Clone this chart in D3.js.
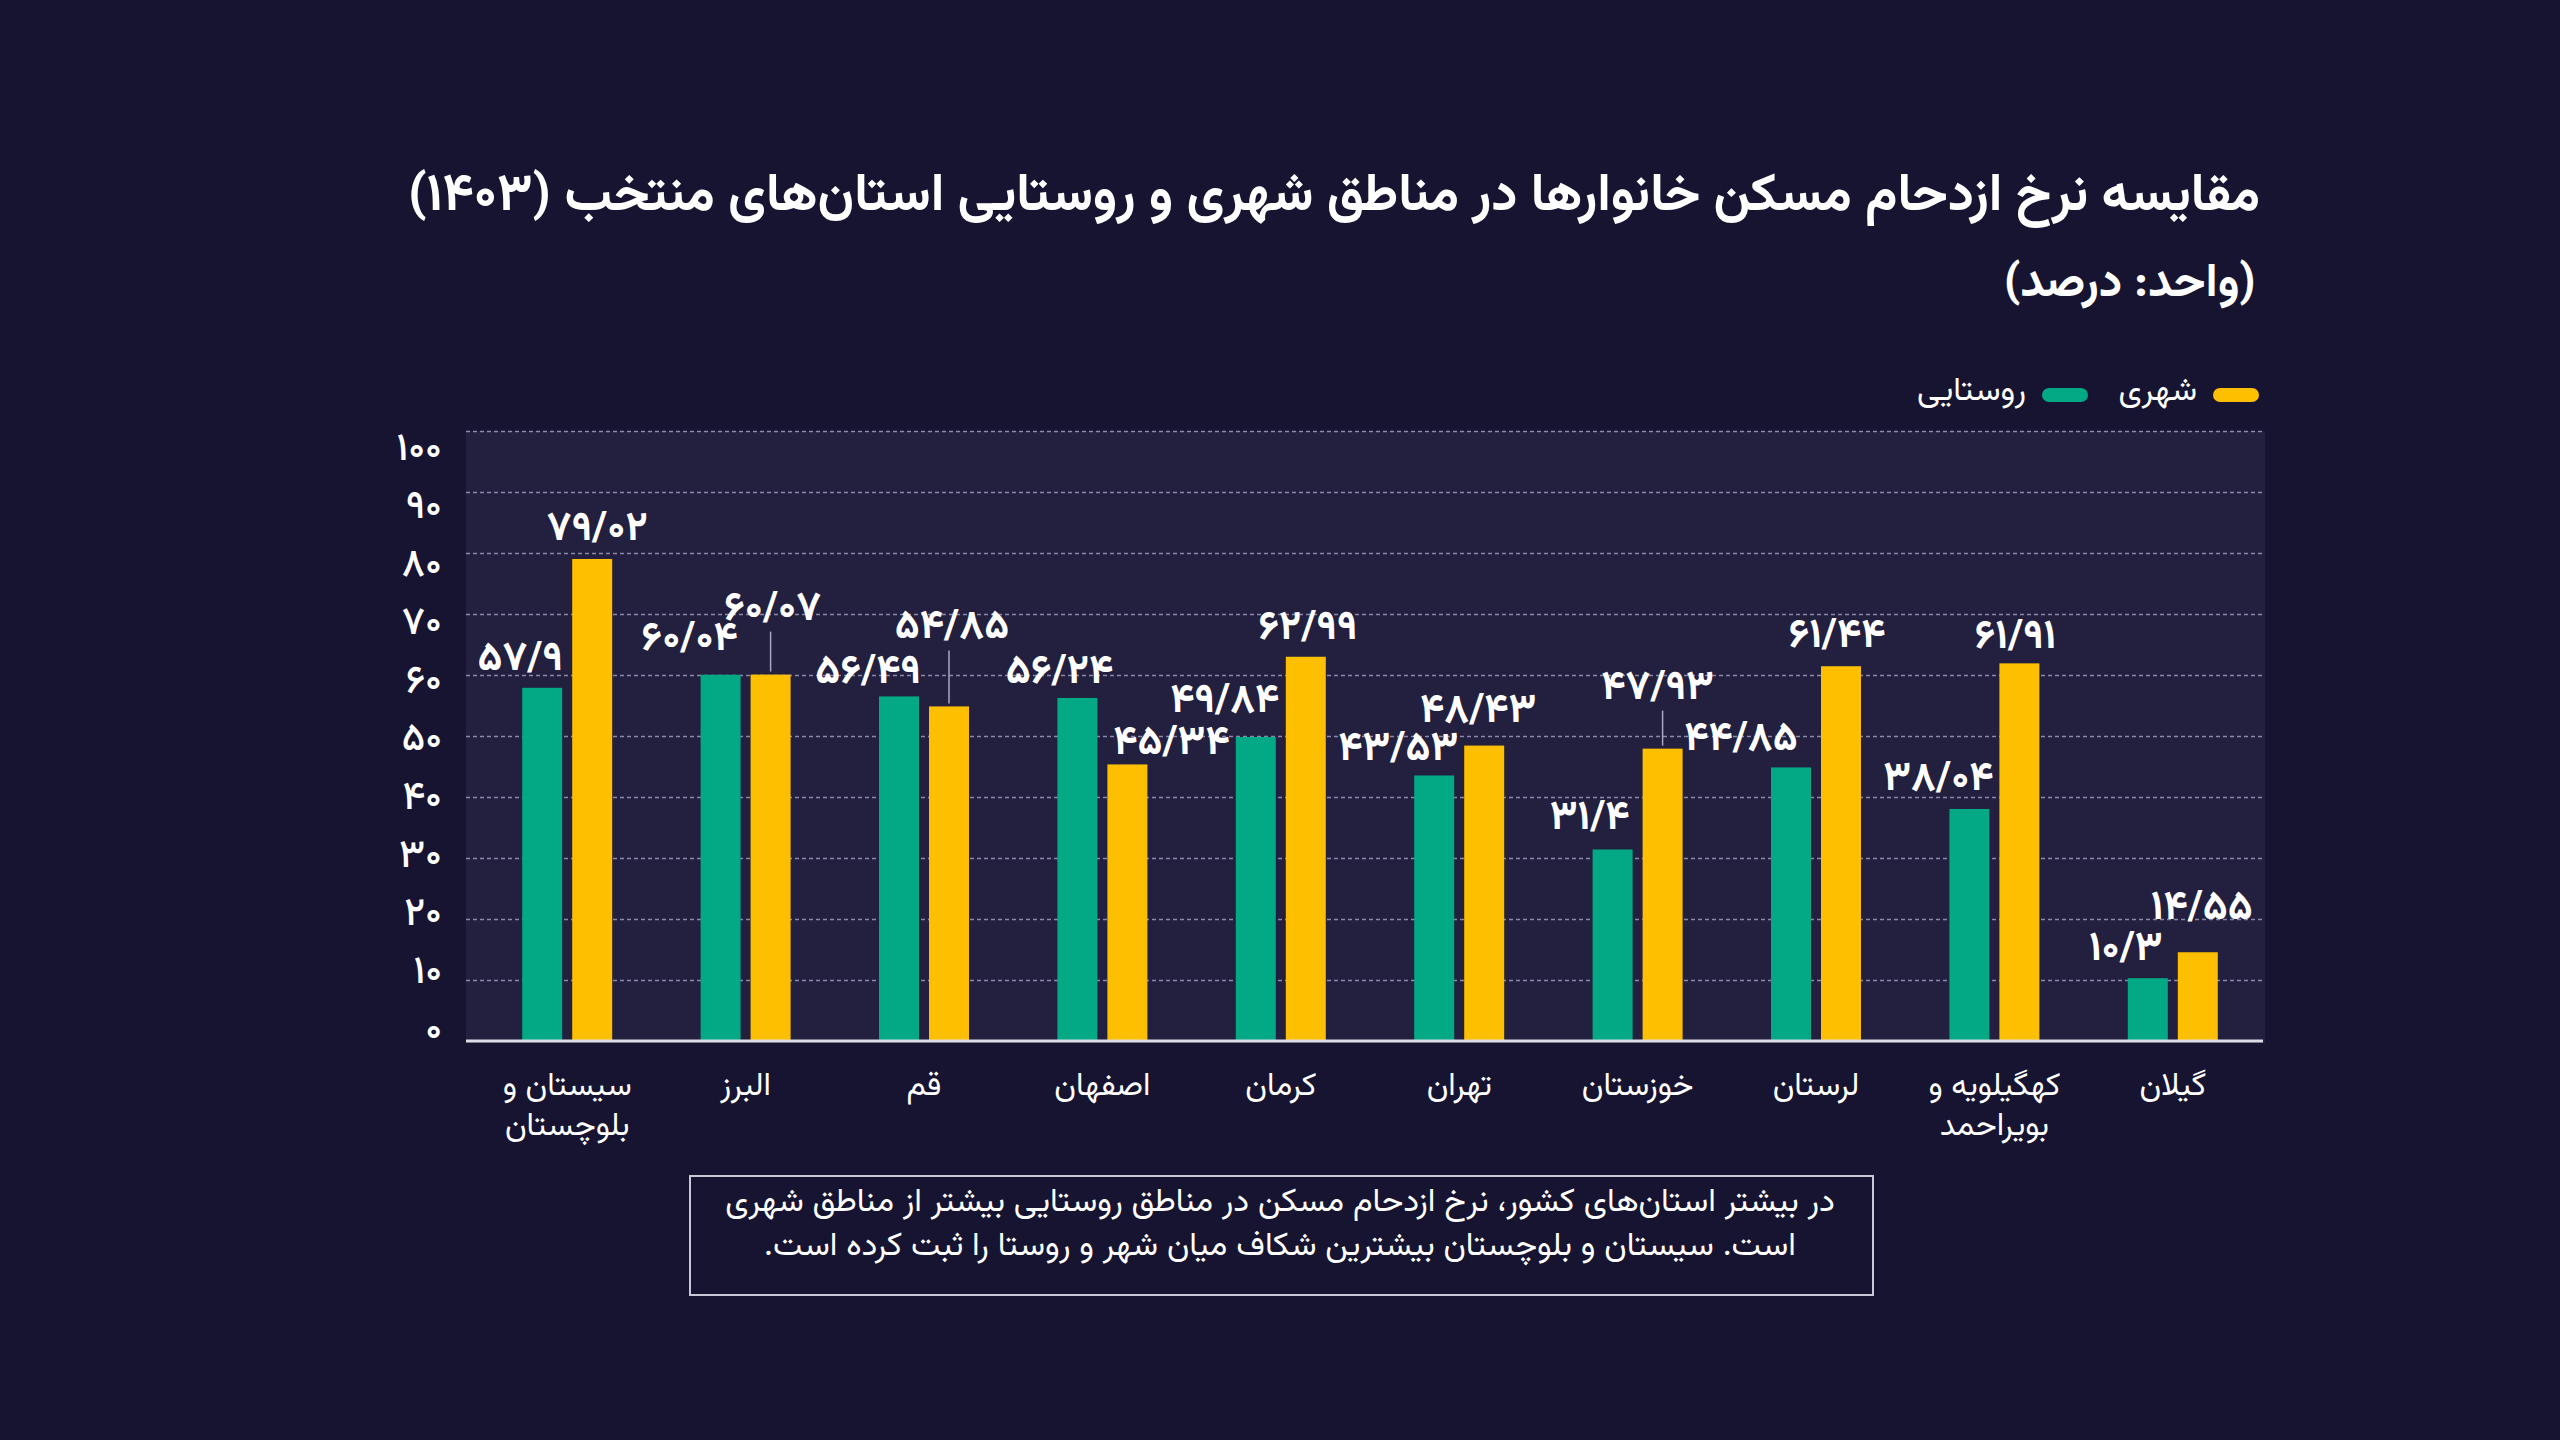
<!DOCTYPE html>
<html lang="fa">
<head>
<meta charset="utf-8">
<title>نرخ ازدحام مسکن</title>
<script src="https://cdn.jsdelivr.net/npm/d3@7"></script>
<style>
  html, body { margin: 0; padding: 0; background: #161431; }
  svg text { font-family: "Vazirmatn", "Noto Sans Arabic", "DejaVu Sans", sans-serif; fill: #ffffff; }
</style>
</head>
<body>
<script>
// data
var provinces = ["سیستان و بلوچستان", "البرز", "قم", "اصفهان", "کرمان", "تهران", "خوزستان", "لرستان", "کهگیلویه و بویراحمد", "گیلان"];
var rural = [57.9, 60.04, 56.49, 56.24, 49.84, 43.53, 31.4, 44.85, 38.04, 10.3];
var urban = [79.02, 60.07, 54.85, 45.34, 62.99, 48.43, 47.93, 61.44, 61.91, 14.55];
var yTicks = [0, 10, 20, 30, 40, 50, 60, 70, 80, 90, 100];

var titleText = "مقایسه نرخ ازدحام مسکن خانوارها در مناطق شهری و روستایی استان\u200cهای منتخب (۱۴۰۳)";
var unitText = "(واحد: درصد)";
var noteLines = ["در بیشتر استان\u200cهای کشور، نرخ ازدحام مسکن در مناطق روستایی بیشتر از مناطق شهری",
                 "است. سیستان و بلوچستان بیشترین شکاف میان شهر و روستا را ثبت کرده است."];

// label nudges (layout only) [dx, dy] from bar top centre
var ruralNudge = [[-22,-28],[-31,-35],[-31,-23],[-18,-25],[-31,-35],[-36,-25],[-23,-30],[-50,-27],[-31,-29],[-22,-28]];
var urbanNudge = [[5,-29],[2,-65],[3,-78],[44,-20],[2,-28],[-6,-34],[-5,-60],[-4,-29],[-4,-25],[4,-43]];
var leader = [false, true, true, false, false, false, true, false, false, false];

var w = 2560, h = 1440;
var green = "#02a984", yellow = "#fdbf00";

function fa(v) {
    return String(v).replace(/\./g, "/").replace(/[0-9]/g, function(c) { return "۰۱۲۳۴۵۶۷۸۹"[+c]; });
}

var svg = d3.select("body").append("svg")
    .attr("width", w)
    .attr("height", h);

svg.append("rect").attr("width", w).attr("height", h).attr("fill", "#161431");

// plot panel
svg.append("rect")
    .attr("x", 466).attr("y", 431)
    .attr("width", 1799).attr("height", 612)
    .attr("fill", "#221f3f");

var x = d3.scaleBand().domain(provinces).range([478, 2262]);
var xSub = d3.scaleBand().domain(["rural", "urban"]).range([0, 90]).paddingInner(0.2);
var y = d3.scaleLinear().domain([0, 100]).range([1041, 431]);
var yLab = d3.scaleLinear().domain([0, 100]).range([1028, 447]);

// grid
var grid = svg.append("g")
    .attr("transform", "translate(466,0)")
    .call(d3.axisLeft(y).tickValues(yTicks.slice(1)).tickSize(-1797).tickFormat(""));
grid.select(".domain").remove();
grid.selectAll(".tick line")
    .attr("stroke", "#8c89ab")
    .attr("stroke-width", 1.3)
    .attr("stroke-dasharray", "4,3");

// y labels
var yAxis = svg.append("g")
    .attr("transform", "translate(442,0)")
    .call(d3.axisLeft(yLab).tickValues(yTicks).tickSize(0).tickPadding(0).tickFormat(fa));
yAxis.select(".domain").remove();
yAxis.selectAll("text")
    .attr("font-size", 39)
    .attr("font-weight", 500)
    .attr("font-family", null)
    .style("fill", "#ffffff");

// bars
var groups = svg.selectAll("g.grp")
    .data(provinces)
    .enter().append("g")
    .attr("class", "grp")
    .attr("transform", function(d) { return "translate(" + (x(d) + x.bandwidth() / 2 - 45) + ",0)"; });

groups.append("rect")
    .attr("x", xSub("rural"))
    .attr("y", function(d, i) { return y(rural[i]); })
    .attr("width", xSub.bandwidth())
    .attr("height", function(d, i) { return y(0) - y(rural[i]); })
    .attr("fill", green);

groups.append("rect")
    .attr("x", xSub("urban"))
    .attr("y", function(d, i) { return y(urban[i]); })
    .attr("width", xSub.bandwidth())
    .attr("height", function(d, i) { return y(0) - y(urban[i]); })
    .attr("fill", yellow);

// leader lines
groups.filter(function(d, i) { return leader[i]; })
    .append("line")
    .attr("x1", xSub("urban") + 20)
    .attr("x2", xSub("urban") + 20)
    .attr("y1", function(d) { var i = provinces.indexOf(d); return y(urban[i]) + urbanNudge[i][1] + 22; })
    .attr("y2", function(d) { var i = provinces.indexOf(d); return y(urban[i]) - 3; })
    .attr("stroke", "#a9a7c0")
    .attr("stroke-width", 1.5);

// value labels
groups.append("text")
    .attr("x", function(d, i) { return xSub("rural") + 20 + ruralNudge[i][0]; })
    .attr("y", function(d, i) { return y(rural[i]) + ruralNudge[i][1]; })
    .attr("text-anchor", "middle")
    .attr("dominant-baseline", "central")
    .attr("font-size", 41)
    .attr("font-weight", "bold")
    .text(function(d, i) { return fa(rural[i]); });

groups.append("text")
    .attr("x", function(d, i) { return xSub("urban") + 20 + urbanNudge[i][0]; })
    .attr("y", function(d, i) { return y(urban[i]) + urbanNudge[i][1]; })
    .attr("text-anchor", "middle")
    .attr("dominant-baseline", "central")
    .attr("font-size", 41)
    .attr("font-weight", "bold")
    .text(function(d, i) { return fa(urban[i]); });

// baseline
svg.append("line")
    .attr("x1", 466).attr("x2", 2263)
    .attr("y1", y(0)).attr("y2", y(0))
    .attr("stroke", "#dcdbe6")
    .attr("stroke-width", 3);

// category labels, one text per line
var catLines = [];
provinces.forEach(function(d) {
    var parts = d.split(" و ");
    var lines = parts.length > 1 ? [parts[0] + " و", parts[1]] : [d];
    lines.forEach(function(l, k) { catLines.push({p: d, text: l, k: k}); });
});
svg.append("g").selectAll("text")
    .data(catLines)
    .enter().append("text")
    .attr("x", function(d) { return x(d.p) + x.bandwidth() / 2; })
    .attr("y", function(d) { return 1087 + d.k * 40; })
    .attr("text-anchor", "middle")
    .attr("direction", "rtl")
    .attr("dominant-baseline", "central")
    .attr("font-size", 32)
    .text(function(d) { return d.text; });

// title
svg.append("text")
    .attr("x", 2260).attr("y", 197)
    .attr("direction", "rtl")
    .attr("text-anchor", "start")
    .attr("dominant-baseline", "central")
    .attr("font-size", 52.6)
    .attr("font-weight", "bold")
    .text(titleText);

svg.append("text")
    .attr("x", 2256).attr("y", 284)
    .attr("direction", "rtl")
    .attr("text-anchor", "start")
    .attr("dominant-baseline", "central")
    .attr("font-size", 47)
    .attr("font-weight", "bold")
    .text(unitText);

// legend
var legend = [{name: "شهری", color: yellow, x: 2259}, {name: "روستایی", color: green, x: 2088}];
var lg = svg.selectAll("g.lg").data(legend).enter().append("g").attr("class", "lg");
lg.append("rect")
    .attr("x", function(d) { return d.x - 46; })
    .attr("y", 388)
    .attr("width", 46).attr("height", 14)
    .attr("rx", 7)
    .attr("fill", function(d) { return d.color; });
lg.append("text")
    .attr("x", function(d) { return d.x - 62; })
    .attr("y", 392)
    .attr("direction", "rtl")
    .attr("text-anchor", "start")
    .attr("dominant-baseline", "central")
    .attr("font-size", 33)
    .text(function(d) { return d.name; });

// note box
svg.append("rect")
    .attr("x", 690).attr("y", 1176)
    .attr("width", 1183).attr("height", 119)
    .attr("fill", "none")
    .attr("stroke", "#c9c8d6")
    .attr("stroke-width", 2);

svg.append("g").selectAll("text")
    .data(noteLines)
    .enter().append("text")
    .attr("x", 1280)
    .attr("y", function(d, i) { return 1203 + i * 44; })
    .attr("direction", "rtl")
    .attr("text-anchor", "middle")
    .attr("dominant-baseline", "central")
    .attr("font-size", 33)
    .text(function(d) { return d; });
</script>
</body>
</html>
